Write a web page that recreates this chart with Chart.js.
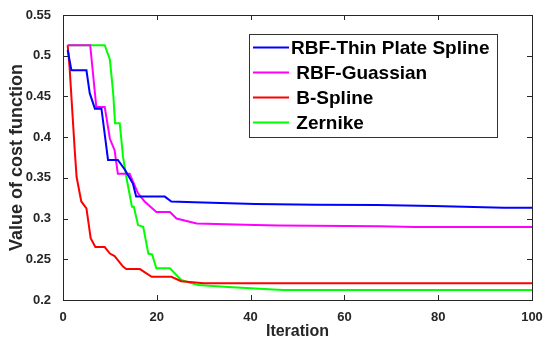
<!DOCTYPE html>
<html lang="en">
  <head>
    <meta charset="utf-8">
    <title>Cost function vs iteration</title>
    <script src="https://cdn.jsdelivr.net/npm/chart.js"></script>
    <style>
      html, body { margin: 0; padding: 0; background: #fff; }
      #wrap { width: 545px; height: 343px; }
    </style>
  </head>
  <body>
    <div id="wrap"><canvas id="chart" width="545" height="343"></canvas></div>
    <script>
      // Breakpoints (iteration, cost)
      const tpsX = [1, 1.8, 5, 5.7, 6.8, 8.2, 9.6, 11.7, 13.2, 14.9, 15.6, 21.7, 23.1, 28, 41, 54, 67, 79, 94, 100];
      const tpsY = [0.507, 0.482, 0.482, 0.454, 0.435, 0.435, 0.372, 0.372, 0.360, 0.343, 0.327, 0.327, 0.321, 0.320, 0.318, 0.317, 0.3166, 0.3154, 0.3133, 0.3133];

      const gaussX = [1, 5.8, 7.1, 8.9, 10, 11, 11.7, 14.2, 16, 17.4, 19.9, 22.8, 24.2, 28.5, 41, 46, 67.5, 75, 100];
      const gaussY = [0.513, 0.513, 0.437, 0.437, 0.398, 0.384, 0.355, 0.355, 0.331, 0.321, 0.308, 0.308, 0.300, 0.294, 0.292, 0.2915, 0.2905, 0.2895, 0.2895];

      const bsplX = [1, 1.4, 2.5, 2.9, 3.9, 5, 5.9, 6.9, 8.9, 10, 11, 12.8, 13.5, 16.4, 18.9, 23.1, 25.2, 30, 100];
      const bsplY = [0.513, 0.486, 0.384, 0.351, 0.321, 0.3125, 0.276, 0.265, 0.265, 0.257, 0.254, 0.241, 0.238, 0.238, 0.2285, 0.2285, 0.223, 0.2205, 0.2205];

      const zernX = [1, 8.9, 10, 10.7, 11.1, 12.1, 12.8, 13.5, 14.7, 15.1, 16, 17.1, 18.2, 19, 19.9, 22.8, 25.2, 28.8, 35.2, 41, 44.8, 47, 100];
      const zernY = [0.513, 0.513, 0.495, 0.454, 0.417, 0.417, 0.376, 0.351, 0.3145, 0.3145, 0.292, 0.290, 0.257, 0.256, 0.239, 0.239, 0.2245, 0.2183, 0.216, 0.2142, 0.213, 0.2122, 0.2122];

      const labels = ["RBF-Thin Plate Spline", " RBF-Guassian", " B-Spline", " Zernike"];
      const colors = ["#0000ff", "#ff00ff", "#ff0000", "#00ff00"];

      const xTicks = [0, 20, 40, 60, 80, 100];
      const yTicks = [0.2, 0.25, 0.3, 0.35, 0.4, 0.45, 0.5, 0.55];

      const AXIS = "#262626";
      const FONT = "'Liberation Sans', Arial, sans-serif";

      let pts = (xs, ys) => xs.map((x, i) => ({x, y: ys[i]}));
      let dataset = (xs, ys, i) => ({
        label: labels[i], data: pts(xs, ys), borderColor: colors[i], backgroundColor: colors[i],
        borderWidth: 2, pointRadius: 0, tension: 0, fill: false
      });

      // MATLAB-style box with inward ticks, plus the legend inside the axes
      const boxPlugin = {
        id: "box",
        afterDatasetsDraw(chart) {
          const {ctx, chartArea: a, scales: {x, y}} = chart;
          ctx.save();
          ctx.strokeStyle = AXIS;
          ctx.lineWidth = 1;
          ctx.strokeRect(a.left + 0.5, a.top + 0.5, a.right - a.left, a.bottom - a.top);
          ctx.beginPath();
          for (let v of xTicks) {
            let px = Math.round(x.getPixelForValue(v)) + 0.5;
            ctx.moveTo(px, a.bottom); ctx.lineTo(px, a.bottom - 5);
            ctx.moveTo(px, a.top); ctx.lineTo(px, a.top + 5);
          }
          for (let v of yTicks) {
            let py = Math.round(y.getPixelForValue(v)) + 0.5;
            ctx.moveTo(a.left, py); ctx.lineTo(a.left + 5, py);
            ctx.moveTo(a.right, py); ctx.lineTo(a.right - 5, py);
          }
          ctx.stroke();

          // legend box
          const lx = 249, ly = 34, lw = 248, lh = 103;
          ctx.fillStyle = "#fff";
          ctx.fillRect(lx, ly, lw, lh);
          ctx.strokeStyle = "#333";
          ctx.strokeRect(lx + 0.5, ly + 0.5, lw, lh);
          ctx.font = "bold 19px " + FONT;
          ctx.textBaseline = "middle";
          ctx.textAlign = "left";
          chart.data.datasets.forEach((ds, i) => {
            let cy = ly + 13.5 + i * 25;
            ctx.strokeStyle = ds.borderColor;
            ctx.lineWidth = 2;
            ctx.beginPath();
            ctx.moveTo(lx + 4, cy); ctx.lineTo(lx + 40, cy);
            ctx.stroke();
            ctx.fillStyle = "#000";
            ctx.fillText(ds.label, lx + 42, cy + 1);
          });
          ctx.restore();
        }
      };

      new Chart(document.getElementById("chart").getContext("2d"), {
        type: "line",
        data: {
          datasets: [
            dataset(tpsX, tpsY, 0),
            dataset(gaussX, gaussY, 1),
            dataset(bsplX, bsplY, 2),
            dataset(zernX, zernY, 3),
          ]
        },
        options: {
          responsive: false,
          animation: false,
          layout: { padding: { top: 15, right: 13, left: 0, bottom: 0 } },
          plugins: { legend: { display: false }, tooltip: { enabled: false } },
          scales: {
            x: {
              type: "linear", min: 0, max: 100,
              afterBuildTicks: s => { s.ticks = xTicks.map(v => ({value: v})); },
              afterFit: s => { s.height = 43; },
              grid: { display: false },
              border: { display: false },
              ticks: { color: AXIS, font: { family: FONT, size: 13, weight: "bold" }, padding: 2 },
              title: { display: true, text: "Iteration", color: AXIS, font: { family: FONT, size: 16, weight: "bold" }, padding: { top: 0, bottom: 2 } }
            },
            y: {
              type: "linear", min: 0.2, max: 0.55,
              afterBuildTicks: s => { s.ticks = yTicks.map(v => ({value: v})); },
              afterFit: s => { s.width = 63; },
              grid: { display: false },
              border: { display: false },
              ticks: { color: AXIS, font: { family: FONT, size: 13, weight: "bold" }, padding: 4,
                callback: v => String(Math.round(v * 100) / 100) },
              title: { display: true, text: "Value of cost function", color: AXIS, font: { family: FONT, size: 18, weight: "bold" }, padding: { top: 6, bottom: 0 } }
            }
          }
        },
        plugins: [boxPlugin]
      });
    </script>
  </body>
</html>
